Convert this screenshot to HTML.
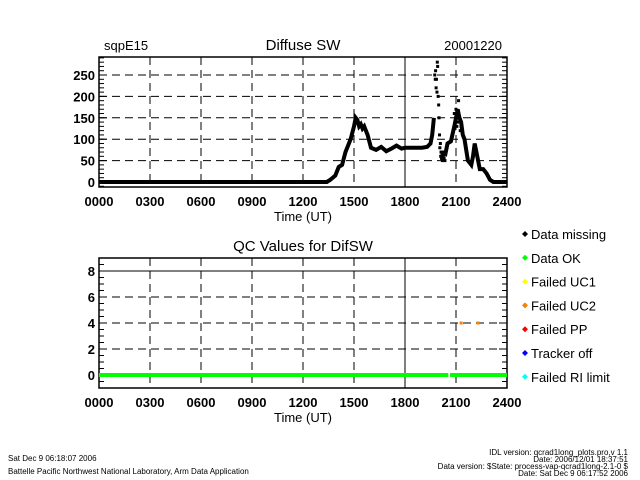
<!DOCTYPE html>
<html><head><meta charset="utf-8"><style>
body{margin:0;background:#fff;width:640px;height:480px;overflow:hidden}
svg{display:block;font-family:"Liberation Sans",sans-serif}
</style></head><body>
<svg id="c" width="640" height="480" viewBox="0 0 640 480">
<text x="104" y="50" font-size="13">sqpE15</text>
<text x="303" y="50" font-size="15" text-anchor="middle">Diffuse SW</text>
<text x="502" y="50" font-size="13" text-anchor="end">20001220</text>
<text x="303" y="251" font-size="15" text-anchor="middle">QC Values for DifSW</text>
<g id="gtop"></g>
<g id="gqc"></g>
<g id="gleg"></g>
<text x="8" y="461" font-size="8">Sat Dec  9 06:18:07 2006</text>
<text x="8" y="474" font-size="8">Battelle Pacific Northwest National Laboratory, Arm Data Application</text>
<g font-size="8" text-anchor="end">
<text x="628" y="455">IDL version: qcrad1long_plots.pro,v 1.1</text>
<text x="628" y="462">Date: 2006/12/01 18:37:51</text>
<text x="628" y="469">Data version: $State: process-vap-qcrad1long-2.1-0 $</text>
<text x="628" y="476">Date: Sat Dec  9 06:17:52 2006</text>
</g>
</svg>
<script>
const hours=[0,13.4,13.6,13.9,14.1,14.3,14.5,14.8,15.0,15.1,15.2,15.3,15.4,15.5,15.6,15.8,16.0,16.3,16.6,16.9,17.2,17.5,17.8,18.0,18.5,19.0,19.3,19.5,19.6,19.7];
const diffuse=[0,0,5,15,35,40,70,100,130,150,145,130,135,125,130,110,80,75,82,72,78,85,78,80,80,80,82,90,110,150];
const hours2=[20.35,20.5,20.7,20.9,21.0,21.1,21.2,21.3,21.4,21.5,21.7,21.9,22.0,22.1,22.2,22.4,22.6,22.8,23.0,23.2,24];
const diffuse2=[60,90,95,130,150,170,150,140,110,100,50,40,60,90,70,30,30,20,5,0,0];
const scatterH=[19.75,19.78,19.8,19.83,19.85,19.88,19.9,19.92,19.95,19.98,20.0,20.03,20.05,20.08,20.1,20.12,20.15,20.18,20.2,20.22,20.25,20.28,20.3,20.33,20.35,20.9,21.0,21.05,21.1,21.15,21.2,21.25,21.3];
const scatterV=[250,240,260,220,240,210,280,270,200,180,150,110,80,90,60,70,55,65,50,70,60,55,55,65,50,160,170,130,140,190,150,120,130];
const qcOkStart=[0,20.65];
const qcOkEnd=[20.55,24];
const uc2H=[21.3,22.3];
const uc2V=[4,4];
const xTicks=['0000','0300','0600','0900','1200','1500','1800','2100','2400'];
const yTicks1=[0,50,100,150,200,250];
const yTicks2=[0,2,4,6,8];
const legLabels=['Data missing','Data OK','Failed UC1','Failed UC2','Failed PP','Tracker off','Failed RI limit'];
const legColors=['#000','#00ff00','#ffff00','#ff8000','#ff0000','#0000ff','#00ffff'];

const NS='http://www.w3.org/2000/svg';
function mk(p,t,a){const e=document.createElementNS(NS,t);for(const k in a)e.setAttribute(k,a[k]);p.appendChild(e);return e;}
const X0=99,X1=507;
const xs=h=>X0+(X1-X0)*h/24;
const y1=v=>182-v*(107/250);
const y2=v=>375-v*13;

function frame(g,ty,by,yf,yt,solidY,minStep,minLo,minHi){
  for(let i=1;i<8;i++){const x=xs(i*3);
    const l=mk(g,'line',{x1:x,x2:x,y1:ty,y2:by,stroke:'#000','stroke-width':1,'stroke-dasharray':i==6?'none':'8,5'});
    
    }
  for(let v=minLo;v<=minHi+1e-9;v+=minStep){const y=yf(v);
    mk(g,'line',{x1:X0,x2:X0+5,y1:y,y2:y,stroke:'#000'});mk(g,'line',{x1:X1,x2:X1-5,y1:y,y2:y,stroke:'#000'});}
  yt.forEach(v=>{const y=yf(v);
    if(v!==0){const l=mk(g,'line',{x1:X0,x2:X1,y1:y,y2:y,stroke:'#000','stroke-width':1,'stroke-dasharray':v===solidY?'none':'8,5'});
      
      }
    const t=mk(g,'text',{x:X0-4,y:y+5,'font-size':13,'text-anchor':'end','font-weight':'bold'});t.textContent=v;
    
    
    mk(g,'line',{x1:X0,x2:X0+8,y1:y,y2:y,stroke:'#000'});mk(g,'line',{x1:X1,x2:X1-8,y1:y,y2:y,stroke:'#000'});
  });
  const r=mk(g,'rect',{x:X0,y:ty,width:X1-X0,height:by-ty,fill:'none',stroke:'#000','stroke-width':1.5});
  
  
  xTicks.forEach((s,i)=>{const t=mk(g,'text',{x:xs(i*3),y:by+19,'font-size':13,'text-anchor':'middle','font-weight':'bold'});t.textContent=s;
    
    });
  const t=mk(g,'text',{x:303,y:by+34,'font-size':13,'text-anchor':'middle'});t.textContent='Time (UT)';
  
  
}
const gTop=document.getElementById('gtop'),gQc=document.getElementById('gqc'),gLeg=document.getElementById('gleg');
frame(gTop,57,187,y1,yTicks1,null,10,-10,290);
frame(gQc,258,388,y2,yTicks2,8,0.5,-0.5,9);
const p1=mk(gTop,'polyline',{points:hours.map((h,i)=>xs(h)+','+y1(diffuse[i])).join(' '),fill:'none',stroke:'#000','stroke-width':4});


const p2=mk(gTop,'polyline',{points:hours2.map((h,i)=>xs(h)+','+y1(diffuse2[i])).join(' '),fill:'none',stroke:'#000','stroke-width':4});


scatterH.forEach((h,i)=>{const r=mk(gTop,'rect',{x:xs(h)-1.5,y:y1(scatterV[i])-1.5,width:3,height:3,fill:'#000'});
  
  });
qcOkStart.forEach((s,i)=>{const l=mk(gQc,'line',{x1:xs(s),x2:xs(qcOkEnd[i]),y1:y2(0),y2:y2(0),stroke:'#00ff00','stroke-width':4});
  
  });
uc2H.forEach((h,i)=>{const r=mk(gQc,'rect',{x:xs(h)-1.5,y:y2(uc2V[i])-1.5,width:3,height:3,fill:'#ff8000'});
  
  });
legLabels.forEach((s,i)=>{const y=237+i*23.8;
  const d=mk(gLeg,'path',{d:`M522,${y-3} l3,-3 l3,3 l-3,3z`,fill:legColors[i]});
  
  
  const t=mk(gLeg,'text',{x:531,y:y+2,'font-size':13});t.textContent=s;
  
  });
</script>
</body></html>
